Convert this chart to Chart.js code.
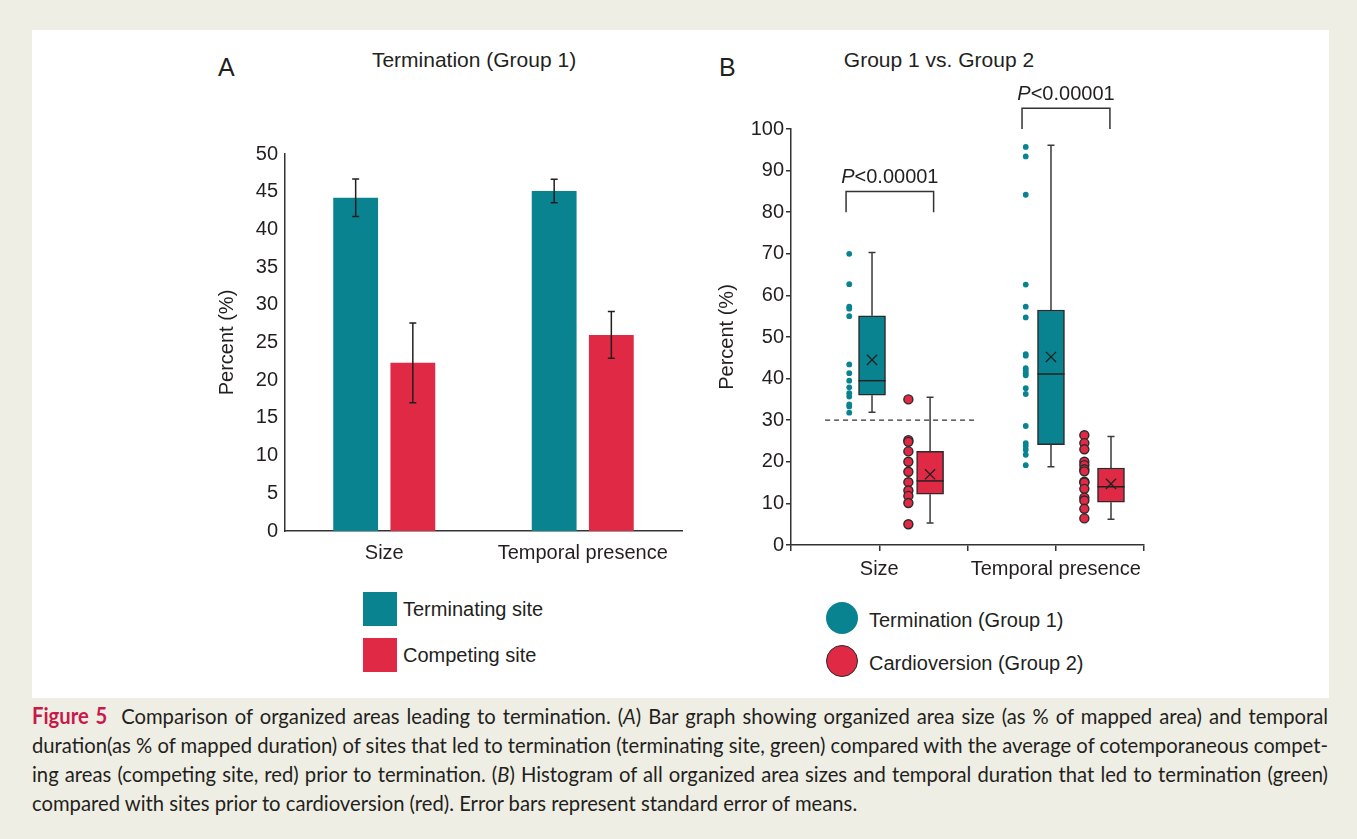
<!DOCTYPE html>
<html><head><meta charset="utf-8">
<script src="https://cdn.jsdelivr.net/npm/chart.js@4.4.0/dist/chart.umd.min.js"></script>
<style>
html,body{margin:0;padding:0;}
body{width:1357px;height:839px;background:#efeee4;position:relative;overflow:hidden;font-family:"Liberation Sans",Arial,sans-serif;color:#231f20;}
#panel{position:absolute;left:32px;top:30px;width:1297px;height:668px;background:#fff;}
.abs{position:absolute;white-space:nowrap;line-height:1;}
canvas{position:absolute;}
.sq{position:absolute;width:34px;height:34px;}
.dot{position:absolute;width:32px;height:32px;border-radius:50%;box-sizing:border-box;}
.leg{position:absolute;font-size:20px;line-height:1;white-space:nowrap;}
.cap{position:absolute;left:32px;height:29px;line-height:29px;font-family:Lato,"Open Sans",sans-serif;font-size:22px;color:#231f20;white-space:nowrap;display:inline-block;transform-origin:0 0;}
.fig{color:#c8194b;font-weight:bold;}
</style>
</head>
<body>
<div id="panel"></div>
<div class="abs" style="left:218px;top:55px;font-size:25px;">A</div>
<div class="abs" style="left:474px;top:49px;font-size:21px;transform:translateX(-50%);">Termination (Group 1)</div>
<div class="abs" style="left:719px;top:55px;font-size:25px;">B</div>
<div class="abs" style="left:939px;top:49px;font-size:21px;transform:translateX(-50%);">Group 1 vs. Group 2</div>

<canvas id="chartA" width="480" height="460" style="left:215px;top:120px;"></canvas>
<canvas id="chartB" width="460" height="520" style="left:715px;top:70px;"></canvas>

<div class="sq" style="left:363px;top:592px;background:#0a8391;"></div>
<div class="leg" style="left:403px;top:599px;">Terminating site</div>
<div class="sq" style="left:363px;top:638px;background:#e02945;"></div>
<div class="leg" style="left:403px;top:645px;">Competing site</div>

<div class="dot" style="left:826px;top:602px;background:#0a8391;"></div>
<div class="leg" style="left:869px;top:610px;">Termination (Group 1)</div>
<div class="dot" style="left:826px;top:645px;background:#e02945;border:1.5px solid #2a2a2a;"></div>
<div class="leg" style="left:869px;top:653px;">Cardioversion (Group 2)</div>

<div class="cap" style="top:701px;"><span class="fig">Figure 5</span>&nbsp; Comparison of organized areas leading to termination. (<i>A</i>) Bar graph showing organized area size (as % of mapped area) and temporal</div>
<div class="cap" style="top:730px;">duration(as % of mapped duration) of sites that led to termination (terminating site, green) compared with the average of cotemporaneous compet-</div>
<div class="cap" style="top:759px;">ing areas (competing site, red) prior to termination. (<i>B</i>) Histogram of all organized area sizes and temporal duration that led to termination (green)</div>
<div class="cap last" style="top:788px;">compared with sites prior to cardioversion (red). Error bars represent standard error of means.</div>

<script>
// ---------- Panel A data ----------
const categoriesA = ['Size', 'Temporal presence'];
const terminatingA = [44.2, 45.1];
const terminatingErrA = [2.5, 1.55];
const competingA = [22.3, 26.0];
const competingErrA = [5.3, 3.1];
const seriesNamesA = ['Terminating site', 'Competing site'];

// ---------- Panel B data ----------
const categoriesB = ['Size', 'Temporal presence'];
const q1B = [36.0, 12.2, 24.1, 10.3];
const medianB = [39.5, 15.4, 41.1, 14.0];
const q3B = [55.1, 22.5, 56.5, 18.5];
const minB = [31.9, 5.3, 18.8, 6.2];
const maxB = [70.3, 35.5, 96.1, 26.1];
const meanB = [44.5, 17.0, 45.2, 14.7];
const group1SizeDots = [70.0, 62.7, 57.3, 56.8, 55.0, 43.4, 41.3, 39.5, 37.9, 36.5, 35.7, 33.8, 33.3, 31.8];
const group2SizeDots = [35.0, 25.2, 24.8, 22.5, 20.0, 17.6, 15.1, 13.1, 11.8, 10.1, 5.0];
const group1TempDots = [95.7, 93.4, 84.2, 62.6, 57.3, 54.7, 45.9, 45.5, 42.5, 41.9, 41.3, 40.8, 37.7, 36.3, 28.6, 24.5, 23.8, 22.9, 21.7, 19.2];
const group2TempDots = [26.4, 24.5, 23.0, 20.0, 19.2, 18.2, 17.7, 15.2, 15.0, 13.5, 11.4, 10.7, 8.7, 6.4];
const thresholdB = 30;
const pLabelsB = ['0.00001', '0.00001'];
const bracketLowB = [80, 100];
const bracketHighB = [85, 105];

// ---------- layout (positions on the B x-axis, in axis units) ----------
const catPosB = [0.5, 1.5];
const boxPosB = [0.459, 0.788, 1.473, 1.813];
const dotPosB = [0.330, 0.665, 1.330, 1.662];
const dashRangeB = [0.193, 1.037];
const bracketXB = [[0.312, 0.808], [1.309, 1.807]];
const pLabelPosB = [[0.56, 88.3], [1.558, 108.3]];

// ---------- styles ----------
const TEAL = '#0a8391', RED = '#e02945', INK = '#231f20', LINE = '#333333';
Chart.defaults.font.family = '"Liberation Sans", Arial, sans-serif';
Chart.defaults.color = INK;

const errorBarsA = {
  id: 'errorBarsA',
  afterDatasetsDraw(chart) {
    const { ctx, scales: { y } } = chart;
    const vals = [terminatingA, competingA];
    const errs = [terminatingErrA, competingErrA];
    ctx.save();
    ctx.strokeStyle = INK; ctx.lineWidth = 1.5;
    chart.data.datasets.forEach((ds, i) => {
      chart.getDatasetMeta(i).data.forEach((bar, j) => {
        const x = bar.x;
        const t = y.getPixelForValue(vals[i][j] + errs[i][j]);
        const b = y.getPixelForValue(vals[i][j] - errs[i][j]);
        ctx.beginPath();
        ctx.moveTo(x, t); ctx.lineTo(x, b);
        ctx.moveTo(x - 3.5, t); ctx.lineTo(x + 3.5, t);
        ctx.moveTo(x - 3.5, b); ctx.lineTo(x + 3.5, b);
        ctx.stroke();
      });
    });
    ctx.restore();
  }
};

new Chart(document.getElementById('chartA'), {
  type: 'bar',
  data: {
    labels: categoriesA,
    datasets: [
      { label: seriesNamesA[0], data: terminatingA, backgroundColor: TEAL },
      { label: seriesNamesA[1], data: competingA, backgroundColor: RED }
    ]
  },
  options: {
    responsive: false, animation: false,
    layout: { padding: { top: 34, right: 13, bottom: 0, left: 0 } },
    plugins: { legend: { display: false }, tooltip: { enabled: false } },
    datasets: { bar: { barPercentage: 0.784, categoryPercentage: 0.576 } },
    scales: {
      x: {
        grid: { display: false, drawTicks: false },
        border: { display: true, color: LINE, width: 1.5 },
        ticks: { font: { size: 20 }, color: INK, padding: 10 },
        afterFit(s) { s.height = 49; }
      },
      y: {
        min: 0, max: 50,
        ticks: { stepSize: 5, padding: 7, font: { size: 20 }, color: INK },
        grid: { display: false, drawTicks: false },
        border: { display: true, color: LINE, width: 1.5 },
        title: { display: true, text: 'Percent (%)', font: { size: 20 }, color: INK, padding: 0 },
        afterFit(s) { s.width = 70; }
      }
    }
  },
  plugins: [errorBarsA]
});

const boxExtrasB = {
  id: 'boxExtrasB',
  beforeDatasetsDraw(chart) {
    const { ctx, scales: { x, y } } = chart;
    ctx.save();
    ctx.strokeStyle = '#3a3a3a'; ctx.lineWidth = 1.5;
    boxPosB.forEach((p, i) => {
      const px = x.getPixelForValue(p);
      const yMin = y.getPixelForValue(minB[i]), yQ1 = y.getPixelForValue(q1B[i]);
      const yQ3 = y.getPixelForValue(q3B[i]), yMax = y.getPixelForValue(maxB[i]);
      ctx.beginPath();
      ctx.moveTo(px, yMin); ctx.lineTo(px, yQ1);
      ctx.moveTo(px, yQ3); ctx.lineTo(px, yMax);
      ctx.moveTo(px - 3.5, yMin); ctx.lineTo(px + 3.5, yMin);
      ctx.moveTo(px - 3.5, yMax); ctx.lineTo(px + 3.5, yMax);
      ctx.stroke();
    });
    ctx.restore();
  },
  afterDatasetsDraw(chart) {
    const { ctx, scales: { x, y } } = chart;
    const boxMeta = chart.getDatasetMeta(chart.data.datasets.length - 1);
    ctx.save();
    ctx.strokeStyle = '#222'; ctx.lineWidth = 1.5;
    boxMeta.data.forEach((el, i) => {
      const ym = y.getPixelForValue(medianB[i]);
      ctx.beginPath();
      ctx.moveTo(el.x - el.width / 2, ym); ctx.lineTo(el.x + el.width / 2, ym);
      ctx.stroke();
    });
    ctx.fillStyle = INK;
    ctx.textBaseline = 'middle';
    pLabelPosB.forEach((pos, i) => {
      const cx = x.getPixelForValue(pos[0]), cy = y.getPixelForValue(pos[1]);
      const italic = 'italic 20px "Liberation Sans", Arial, sans-serif';
      const normal = '20px "Liberation Sans", Arial, sans-serif';
      ctx.font = italic; const wP = ctx.measureText('P').width;
      ctx.font = normal; const rest = '<' + pLabelsB[i]; const wR = ctx.measureText(rest).width;
      const x0 = cx - (wP + wR) / 2;
      ctx.font = italic; ctx.textAlign = 'left'; ctx.fillText('P', x0, cy);
      ctx.font = normal; ctx.fillText(rest, x0 + wP, cy);
    });
    ctx.restore();
  }
};

const dotSets = [group1SizeDots, group2SizeDots, group1TempDots, group2TempDots];
const dotDatasets = dotSets.map((arr, i) => {
  const teal = i % 2 === 0;
  return {
    type: 'scatter',
    data: arr.map(v => ({ x: dotPosB[i], y: v })),
    pointRadius: teal ? 2.9 : 4.5,
    backgroundColor: teal ? TEAL : RED,
    borderColor: teal ? TEAL : '#2a2a2a',
    borderWidth: teal ? 0 : 1.4
  };
});
const bracketDatasets = bracketXB.map((bx, i) => ({
  type: 'line',
  data: [{ x: bx[0], y: bracketLowB[i] }, { x: bx[0], y: bracketHighB[i] }, { x: bx[1], y: bracketHighB[i] }, { x: bx[1], y: bracketLowB[i] }],
  borderColor: LINE, borderWidth: 1.5, pointRadius: 0, fill: false, tension: 0, clip: false
}));

new Chart(document.getElementById('chartB'), {
  type: 'scatter',
  data: {
    datasets: [
      {
        type: 'scatter',
        data: boxPosB.map((p, i) => ({ x: p, y: meanB[i] })),
        pointStyle: 'crossRot', pointRadius: 7.2, borderColor: '#222', borderWidth: 1.3, backgroundColor: 'transparent'
      },
      {
        type: 'line',
        data: [{ x: dashRangeB[0], y: thresholdB }, { x: dashRangeB[1], y: thresholdB }],
        borderColor: LINE, borderWidth: 1.3, borderDash: [5, 4], pointRadius: 0, fill: false
      },
      ...bracketDatasets,
      ...dotDatasets,
      {
        type: 'bar',
        data: boxPosB.map((p, i) => ({ x: p, y: [q1B[i], q3B[i]] })),
        backgroundColor: [TEAL, RED, TEAL, RED],
        borderColor: '#2a2a2a', borderWidth: 1.5, borderSkipped: false,
        barThickness: 27, grouped: false
      }
    ]
  },
  options: {
    responsive: false, animation: false,
    layout: { padding: { top: 59, right: 31, bottom: 0, left: 0 } },
    plugins: { legend: { display: false }, tooltip: { enabled: false } },
    scales: {
      x: {
        type: 'linear', min: 0, max: 2, offset: false,
        ticks: {
          stepSize: 0.5, autoSkip: false, maxRotation: 0, padding: 6,
          font: { size: 20 }, color: INK,
          callback(v) { const k = catPosB.indexOf(v); return k >= 0 ? categoriesB[k] : ''; }
        },
        grid: { display: true, offset: false, drawOnChartArea: false, tickLength: 6, color: LINE, lineWidth: 1.5 },
        border: { display: true, color: LINE, width: 1.5 },
        afterFit(s) { s.height = 45; }
      },
      y: {
        type: 'linear', min: 0, max: 100,
        ticks: { stepSize: 10, padding: 2, font: { size: 20 }, color: INK },
        grid: { display: true, drawOnChartArea: false, tickLength: 5, color: LINE, lineWidth: 1.5 },
        border: { display: true, color: LINE, width: 1.5 },
        title: { display: true, text: 'Percent (%)', font: { size: 20 }, color: INK, padding: 0 },
        afterFit(s) { s.width = 76; }
      }
    }
  },
  plugins: [boxExtrasB]
});

// caption: common horizontal compression so the longest line fits, then justify
(function () {
  const W = 1296;
  const caps = Array.from(document.querySelectorAll('.cap'));
  const nat = caps.map(el => el.getBoundingClientRect().width);
  const scale = Math.min(1, ...nat.map(w => W / w));
  caps.forEach(el => {
    el.style.transform = 'scaleX(' + scale.toFixed(4) + ')';
    if (!el.classList.contains('last')) {
      el.style.display = 'block';
      el.style.width = (W / scale).toFixed(1) + 'px';
      el.style.textAlign = 'justify';
      el.style.textAlignLast = 'justify';
    }
  });
})();
</script>
</body></html>
